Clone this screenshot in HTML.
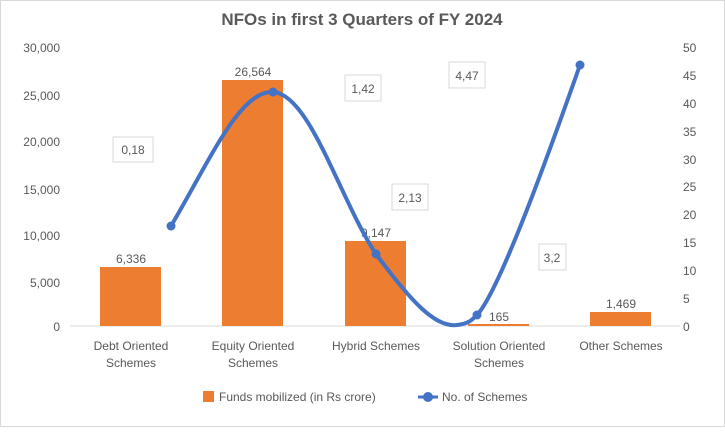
<!DOCTYPE html>
<html><head><meta charset="utf-8"><style>
body{margin:0;background:#fff;}
svg text{font-family:"Liberation Sans",sans-serif;fill:#595959;}
</style></head><body>
<svg width="725" height="427" viewBox="0 0 725 427" xmlns="http://www.w3.org/2000/svg">
<rect x="0.5" y="0.5" width="724" height="426" fill="#fff" stroke="#d9d9d9"/>
<text x="362" y="25" font-size="17" font-weight="bold" text-anchor="middle">NFOs in first 3 Quarters of FY 2024</text>
<g font-size="12" text-anchor="end">
<text x="60" y="52">30,000</text><text x="60" y="100">25,000</text><text x="60" y="146">20,000</text>
<text x="60" y="194">15,000</text><text x="60" y="240">10,000</text><text x="60" y="287">5,000</text><text x="60" y="331">0</text>
</g>
<g font-size="12" text-anchor="start">
<text x="683" y="52">50</text><text x="683" y="80">45</text><text x="683" y="108">40</text><text x="683" y="136">35</text>
<text x="683" y="164">30</text><text x="683" y="191">25</text><text x="683" y="219">20</text><text x="683" y="247">15</text>
<text x="683" y="275">10</text><text x="683" y="303">5</text><text x="683" y="331">0</text>
</g>
<line x1="70" y1="326" x2="680" y2="326" stroke="#d9d9d9"/>
<g fill="#ed7d31">
<rect x="100" y="267" width="61" height="59"/>
<rect x="222" y="80" width="61" height="246"/>
<rect x="345" y="241" width="61" height="85"/>
<rect x="468" y="324" width="61" height="2"/>
<rect x="590" y="312" width="61" height="14"/>
</g>
<g font-size="12" text-anchor="middle">
<text x="131" y="263">6,336</text><text x="253" y="76">26,564</text><text x="376" y="237">9,147</text>
<text x="499" y="321">165</text><text x="621" y="308">1,469</text>
</g>
<path d="M171,226 C210,160 240,90 273,92 C310,94 340,200 376,254 C410,300 435,328 457,325 C468,324 472,320 477,315 C500,290 550,150 580,65" fill="none" stroke="#4472c4" stroke-width="4"/>
<g fill="#4472c4"><circle cx="171" cy="226" r="4.5"/><circle cx="273" cy="92" r="4.5"/><circle cx="376" cy="254" r="4.5"/><circle cx="477" cy="315" r="4.5"/><circle cx="580" cy="65" r="4.5"/></g>
<g font-size="12" text-anchor="middle">
<rect x="113" y="137" width="40" height="25" fill="#fff" stroke="#d9d9d9"/><text x="133" y="154">0,18</text>
<rect x="345" y="75" width="36" height="26" fill="#fff" stroke="#d9d9d9"/><text x="363" y="93">1,42</text>
<rect x="449" y="62" width="36" height="26" fill="#fff" stroke="#d9d9d9"/><text x="467" y="80">4,47</text>
<rect x="392" y="184" width="36" height="26" fill="#fff" stroke="#d9d9d9"/><text x="410" y="202">2,13</text>
<rect x="539" y="244" width="27" height="26" fill="#fff" stroke="#d9d9d9"/><text x="552" y="262">3,2</text>
</g>
<g font-size="12" text-anchor="middle">
<text x="131" y="350">Debt Oriented</text><text x="131" y="367">Schemes</text>
<text x="253" y="350">Equity Oriented</text><text x="253" y="367">Schemes</text>
<text x="376" y="350">Hybrid Schemes</text>
<text x="499" y="350">Solution Oriented</text><text x="499" y="367">Schemes</text>
<text x="621" y="350">Other Schemes</text>
</g>
<rect x="203" y="391" width="11" height="11" fill="#ed7d31"/>
<text x="219" y="401" font-size="12">Funds mobilized (in Rs crore)</text>
<line x1="418" y1="397" x2="438" y2="397" stroke="#4472c4" stroke-width="3"/>
<circle cx="428" cy="397" r="5" fill="#4472c4"/>
<text x="442" y="401" font-size="12">No. of Schemes</text>
</svg>
</body></html>
